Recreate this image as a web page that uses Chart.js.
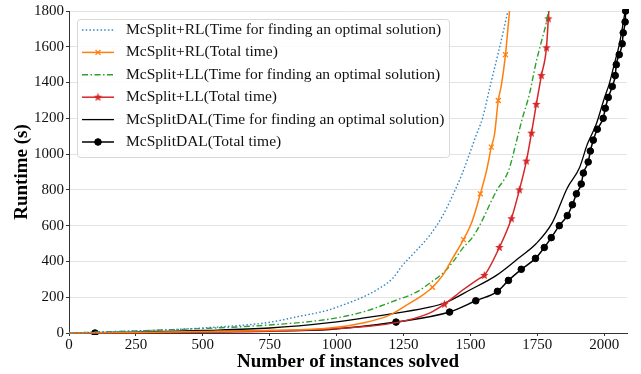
<!DOCTYPE html>
<html>
<head>
<meta charset="utf-8">
<script src="https://cdn.jsdelivr.net/npm/chart.js@4"></script>
<style>
  html, body { margin: 0; padding: 0; background: #fff; }
  #wrap { width: 641px; height: 374px; }
</style>
</head>
<body>
<div id="wrap"><canvas id="runtimeChart" width="641" height="374"></canvas></div>
<script>
// x = number of instances solved, y = runtime (s)
const rlOptX = [0, 250, 500, 750, 850, 974, 1011, 1097, 1160, 1209, 1246, 1298, 1347, 1396, 1433, 1470, 1496, 1520, 1545, 1575, 1605, 1625, 1640];
const rlOptY = [0, 11, 28, 60, 90, 130, 150, 200, 250, 305, 378, 461, 544, 655, 767, 894, 1000, 1100, 1200, 1389, 1572, 1700, 1800];

const rlTotX = [0, 250, 500, 750, 974, 1097, 1198, 1261, 1310, 1358, 1396, 1433, 1474, 1507, 1537, 1560, 1578, 1590, 1604, 1616, 1631, 1638, 1646];
const rlTotY = [0, 3, 8, 15, 28, 56, 100, 156, 200, 256, 322, 417, 522, 628, 778, 906, 1039, 1111, 1300, 1389, 1556, 1667, 1800];
const rlTotMarks = [9, 12, 14, 16, 18, 20];

const llOptX = [0, 250, 500, 750, 974, 1097, 1222, 1298, 1347, 1396, 1433, 1470, 1507, 1534, 1597, 1642, 1672, 1694, 1720, 1746, 1765, 1784, 1791];
const llOptY = [0, 12, 25, 45, 78, 117, 183, 228, 278, 333, 394, 472, 533, 600, 794, 906, 1072, 1200, 1333, 1517, 1628, 1739, 1800];

const llTotX = [0, 250, 500, 750, 974, 1222, 1347, 1403, 1470, 1534, 1552, 1608, 1653, 1683, 1709, 1728, 1746, 1765, 1784, 1791, 1793];
const llTotY = [0, 2, 5, 10, 22, 58, 111, 161, 239, 306, 322, 478, 639, 800, 961, 1117, 1278, 1439, 1594, 1756, 1800];
const llTotMarks = [7, 10, 11, 12, 13, 14, 15, 16, 17, 18, 19];

const dalOptX = [0, 250, 500, 750, 974, 1097, 1222, 1347, 1410, 1496, 1597, 1683, 1746, 1806, 1862, 1907, 1937, 1970, 2000, 2019, 2037, 2056, 2067, 2078];
const dalOptY = [0, 5, 14, 28, 58, 83, 111, 144, 172, 239, 322, 422, 500, 617, 811, 922, 1056, 1167, 1311, 1394, 1500, 1611, 1700, 1800];

const dalTotX = [0, 97, 250, 500, 750, 974, 1222, 1422, 1520, 1601, 1642, 1690, 1743, 1776, 1802, 1832, 1862, 1881, 1896, 1914, 1922, 1940, 1948, 1959, 1974, 1996, 2004, 2015, 2030, 2041, 2045, 2056, 2067, 2071, 2078, 2080];
const dalTotY = [0, 0, 3, 7, 12, 20, 61, 117, 180, 233, 294, 356, 417, 478, 533, 600, 656, 717, 778, 833, 894, 956, 1017, 1078, 1139, 1200, 1256, 1317, 1378, 1439, 1500, 1556, 1617, 1678, 1739, 1800];
const dalTotMarks = [1, 6, 7, 8, 9, 10, 11, 12, 13, 14, 15, 16, 17, 18, 19, 20, 21, 22, 23, 24, 25, 26, 27, 28, 29, 30, 31, 32, 33, 34, 35];

const xTicks = [0, 250, 500, 750, 1000, 1250, 1500, 1750, 2000];
const yTicks = [0, 200, 400, 600, 800, 1000, 1200, 1400, 1600, 1800];

const serif = "'Liberation Serif', 'Times New Roman', serif";

// filled star marker like matplotlib '*'
function makeStar(color, r) {
  const c = document.createElement("canvas");
  const s = Math.ceil(r * 2 + 2);
  c.width = s;
  c.height = s;
  const g = c.getContext("2d");
  g.fillStyle = color;
  g.beginPath();
  for (let i = 0; i < 10; i++) {
    const rad = i % 2 === 0 ? r : r * 0.42;
    const a = -Math.PI / 2 + (i * Math.PI) / 5;
    const px = s / 2 + rad * Math.cos(a);
    const py = s / 2 + rad * Math.sin(a);
    if (i === 0) g.moveTo(px, py);
    else g.lineTo(px, py);
  }
  g.closePath();
  g.fill();
  return c;
}
const redStar = makeStar("#d62728", 4.5);

function pts(xs, ys) {
  return xs.map((x, i) => ({ x: x, y: ys[i] }));
}

function series(label, xs, ys, color, opts) {
  const marks = opts.marks || [];
  return {
    label: label,
    data: pts(xs, ys),
    borderColor: color,
    backgroundColor: color,
    borderWidth: opts.width || 1.5,
    borderDash: opts.dash || [],
    pointStyle: opts.pointStyle || "circle",
    pointRadius: (ctx) => (marks.includes(ctx.dataIndex) ? opts.radius || 3 : 0),
    pointBorderWidth: opts.pointBorderWidth || 1,
    pointBorderColor: color,
    pointBackgroundColor: color,
    pointHoverRadius: 0,
    fill: false,
    cubicInterpolationMode: "monotone",
    clip: 2,
  };
}

const datasets = [
  series("McSplit+RL(Time for finding an optimal solution)", rlOptX, rlOptY, "#2f86c6", { dash: [1.5, 2.2], width: 1.4 }),
  series("McSplit+RL(Total time)", rlTotX, rlTotY, "#ff7f0e", { marks: rlTotMarks, pointStyle: "crossRot", radius: 3.5, pointBorderWidth: 1.3 }),
  series("McSplit+LL(Time for finding an optimal solution)", llOptX, llOptY, "#2ca02c", { dash: [6, 2.5, 1.5, 2.5], width: 1.4 }),
  series("McSplit+LL(Total time)", llTotX, llTotY, "#d62728", { marks: llTotMarks, pointStyle: redStar, radius: 4 }),
  series("McSplitDAL(Time for finding an optimal solution)", dalOptX, dalOptY, "#000000", { width: 1.3 }),
  series("McSplitDAL(Total time)", dalTotX, dalTotY, "#000000", { marks: dalTotMarks, radius: 3.3, width: 1.5 }),
];

// legend box drawn in the upper left of the plot, line sample + marker like matplotlib
const boxLegend = {
  id: "boxLegend",
  afterDatasetsDraw(chart) {
    const ctx = chart.ctx;
    const area = chart.chartArea;
    const x0 = area.left + 8;
    const y0 = area.top + 8;
    const w = 372;
    const h = 138;
    ctx.save();
    ctx.beginPath();
    ctx.roundRect(x0 + 0.5, y0 + 0.5, w, h, 3);
    ctx.fillStyle = "rgba(255,255,255,0.85)";
    ctx.fill();
    ctx.strokeStyle = "#d8d8d8";
    ctx.lineWidth = 1;
    ctx.stroke();
    ctx.font = "15.5px " + serif;
    ctx.textBaseline = "middle";
    chart.data.datasets.forEach((ds, i) => {
      const cy = y0 + 11 + i * 22.4;
      const lx = x0 + 5;
      ctx.beginPath();
      ctx.setLineDash(ds.borderDash);
      ctx.strokeStyle = ds.borderColor;
      ctx.lineWidth = ds.borderWidth;
      ctx.moveTo(lx, cy);
      ctx.lineTo(lx + 32, cy);
      ctx.stroke();
      ctx.setLineDash([]);
      const meta = chart.getDatasetMeta(i);
      const hasMark = meta.data.some((p) => p.options.radius > 0);
      if (hasMark) {
        ctx.fillStyle = ds.pointBackgroundColor;
        ctx.strokeStyle = ds.pointBorderColor;
        ctx.lineWidth = ds.pointBorderWidth;
        const r = Math.max(...meta.data.map((p) => p.options.radius));
        Chart.helpers.drawPoint(ctx, { pointStyle: ds.pointStyle, radius: r, rotation: 0, borderWidth: ds.pointBorderWidth }, lx + 16, cy);
      }
      ctx.fillStyle = "#111";
      ctx.fillText(ds.label, x0 + 49, cy);
    });
    ctx.restore();
  },
};

new Chart(document.getElementById("runtimeChart"), {
  type: "line",
  data: { datasets: datasets },
  options: {
    responsive: false,
    animation: false,
    devicePixelRatio: 1,
    layout: { padding: { top: 9, right: 14, left: 0, bottom: 0 } },
    plugins: {
      legend: { display: false },
      tooltip: { enabled: false },
    },
    scales: {
      x: {
        type: "linear",
        min: 0,
        max: 2085,
        afterBuildTicks: (s) => {
          s.ticks = xTicks.map((v) => ({ value: v }));
        },
        afterFit: (s) => {
          s.height = 41;
        },
        ticks: {
          font: { family: serif, size: 15 },
          color: "#111",
          padding: 0,
          maxRotation: 0,
          callback: (v) => String(v),
        },
        grid: { drawOnChartArea: false, tickLength: 3, tickColor: "#333" },
        border: { color: "#333", width: 1 },
        title: {
          display: true,
          text: "Number of instances solved",
          font: { family: serif, size: 19, weight: "bold" },
          color: "#000",
          padding: { top: 0, bottom: 1 },
        },
      },
      y: {
        min: 0,
        max: 1800,
        afterBuildTicks: (s) => {
          s.ticks = yTicks.map((v) => ({ value: v }));
        },
        afterFit: (s) => {
          s.width = 69;
        },
        ticks: {
          font: { family: serif, size: 15 },
          color: "#111",
          padding: 2,
          callback: (v) => String(v),
        },
        grid: { color: "#e3e3e3", tickLength: 3, tickColor: "#333" },
        border: { color: "#333", width: 1 },
        title: {
          display: true,
          text: "Runtime (s)",
          font: { family: serif, size: 19, weight: "bold" },
          color: "#000",
          padding: { top: 11, bottom: 0 },
        },
      },
    },
  },
  plugins: [boxLegend],
});
</script>
</body>
</html>
